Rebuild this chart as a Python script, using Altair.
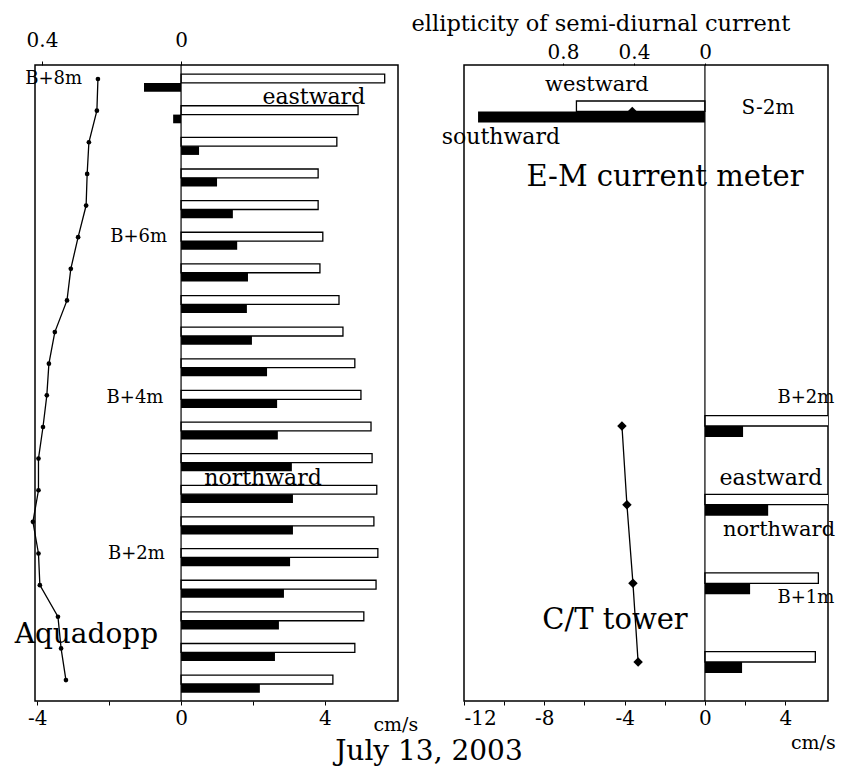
import altair as alt
import pandas as pd

FONT = "DejaVu Serif"

# ---------------- data ----------------
# Aquadopp profile (left panel): height above bottom (m)
aq_height = [8.0, 7.6, 7.2, 6.8, 6.4, 6.0, 5.6, 5.2, 4.8, 4.4,
             4.0, 3.6, 3.2, 2.8, 2.4, 2.0, 1.6, 1.2, 0.8, 0.4]
aq_east = [5.66, 4.92, 4.33, 3.81, 3.81, 3.94, 3.86, 4.39, 4.50, 4.83,
           5.00, 5.28, 5.31, 5.44, 5.36, 5.47, 5.42, 5.08, 4.83, 4.22]
aq_north = [-1.03, -0.22, 0.50, 1.00, 1.44, 1.56, 1.86, 1.83, 1.97, 2.39,
            2.67, 2.69, 3.08, 3.11, 3.11, 3.03, 2.86, 2.72, 2.61, 2.19]
aq_ellip = [0.239, 0.242, 0.265, 0.270, 0.273, 0.296, 0.317, 0.328, 0.363, 0.380,
            0.386, 0.397, 0.410, 0.410, 0.426, 0.410, 0.406, 0.354, 0.345, 0.331]

# E-M current meter (S-2m) and C/T tower (right panel)
em_height = [4.0]
em_east = [-6.4]      # westward
em_north = [-11.3]    # southward
em_ellip = [0.41]
ct_height = [2.0, 1.5, 1.0, 0.5]
ct_east = [6.2, 6.2, 5.65, 5.5]
ct_north = [1.9, 3.15, 2.25, 1.85]
ct_ellip = [0.468, 0.440, 0.406, 0.377]

# annotations: text, x (cm/s), y (m), font size
ann_left_text = ["B+8m", "B+6m", "B+4m", "B+2m", "eastward", "northward",
                 "Aquadopp", "cm/s", "July  13, 2003"]
ann_left_x = [-3.54, -1.18, -1.28, -1.24, 3.69, 2.28, -2.63, 5.97, 6.89]
ann_left_y = [8.0, 6.0, 3.97, 2.0, 7.77, 2.955, 0.97, -0.17, -0.51]
ann_left_fs = [18, 18, 18, 18, 22, 22, 28, 19, 28]

ann_right_text = ["ellipticity of semi-diurnal current", "westward", "southward", "S-2m",
                  "E-M current meter", "B+2m", "eastward", "northward", "B+1m",
                  "C/T tower", "cm/s"]
ann_right_x = [-5.18, -5.38, -10.16, 3.14, -1.99, 5.03, 3.29, 3.69, 5.03, -4.48, 5.40]
ann_right_y = [4.555, 4.168, 3.837, 4.022, 3.583, 2.178, 1.669, 1.339, 0.907, 0.767, -0.015]
ann_right_fs = [22.5, 21, 22, 20, 29, 18, 22, 21, 18, 29, 19]


def mult_label(m):
    return (f"datum.value % {m} == 0 ? (datum.value < 0 ? '-' + abs(datum.value) : '' + datum.value) : ''")


ELL_LABEL = "datum.value == 0 ? '0' : format(datum.value, '.1f')"


def panel(df, ann, xdom, ydom, edom, xvals, evals, width, height, bar_off, marker,
          top_tick, lbl_pad_top, line_groups):
    XS = alt.Scale(domain=xdom, nice=False, zero=False)
    YS = alt.Scale(domain=ydom, nice=False, zero=False)
    ES = alt.Scale(domain=edom, nice=False, zero=False)
    o_lo, o_hi, f_lo, f_hi = bar_off

    axis_b = alt.Axis(orient="bottom", values=xvals, labelExpr=mult_label(4), title=None,
                      grid=False, domain=False, tickSize=4, tickColor="black",
                      labelFontSize=20, labelPadding=3, labelColor="black", labelFont=FONT)
    axis_t = alt.Axis(orient="top", values=evals, labelExpr=ELL_LABEL, title=None,
                      grid=False, domain=False, tickSize=top_tick, tickColor="black",
                      labelFontSize=20, labelPadding=lbl_pad_top, labelColor="black", labelFont=FONT)

    base = alt.Chart(df).transform_calculate(
        zero="0",
        oa=f"datum.h + ({o_lo})", ob=f"datum.h + ({o_hi})",
        fa=f"datum.h + ({f_lo})", fb=f"datum.h + ({f_hi})",
    )
    open_bars = base.mark_bar(fill="white", stroke="black", strokeWidth=1.3, clip=True).encode(
        x=alt.X("east:Q", scale=XS, axis=axis_b), x2="zero:Q",
        y=alt.Y("oa:Q", scale=YS, axis=None), y2="ob:Q")
    fill_bars = base.mark_bar(fill="black", clip=True).encode(
        x=alt.X("north:Q", scale=XS, axis=axis_b), x2="zero:Q",
        y=alt.Y("fa:Q", scale=YS, axis=None), y2="fb:Q")
    zero_rule = alt.Chart(pd.DataFrame({"z": [0.0]})).mark_rule(color="black", strokeWidth=1.2).encode(
        x=alt.X("z:Q", scale=XS, axis=axis_b))
    texts = alt.Chart(ann).mark_text(font=FONT, baseline="middle", align="center", color="black").encode(
        x=alt.X("x:Q", scale=XS, axis=axis_b), y=alt.Y("y:Q", scale=YS, axis=None),
        text="t:N", size=alt.Size("fs:Q", scale=None, legend=None))
    cm_layer = alt.layer(open_bars, fill_bars, zero_rule, texts)

    ell_line = alt.Chart(df).transform_filter(
        alt.FieldOneOfPredicate(field="g", oneOf=line_groups)
    ).mark_line(color="black", strokeWidth=1.3).encode(
        x=alt.X("ellip:Q", scale=ES, axis=axis_t),
        y=alt.Y("h:Q", scale=YS, axis=None),
        order=alt.Order("h:Q"))
    ell_pts = alt.Chart(df).mark_point(filled=True, color="black", opacity=1, **marker).encode(
        x=alt.X("ellip:Q", scale=ES, axis=axis_t),
        y=alt.Y("h:Q", scale=YS, axis=None))
    ell_layer = alt.layer(ell_line, ell_pts)

    return alt.layer(cm_layer, ell_layer).resolve_scale(x="independent").properties(
        width=width, height=height)


aq_df = pd.DataFrame({"h": aq_height, "east": aq_east, "north": aq_north,
                      "ellip": aq_ellip, "g": ["aq"] * len(aq_height)})
ann_l = pd.DataFrame({"t": ann_left_text, "x": ann_left_x, "y": ann_left_y, "fs": ann_left_fs})

right_df = pd.DataFrame({
    "h": em_height + ct_height,
    "east": em_east + ct_east,
    "north": em_north + ct_north,
    "ellip": em_ellip + ct_ellip,
    "g": ["em"] * len(em_height) + ["ct"] * len(ct_height),
})
ann_r = pd.DataFrame({"t": ann_right_text, "x": ann_right_x, "y": ann_right_y, "fs": ann_right_fs})

left = panel(aq_df, ann_l, [-4.06, 6.03], [0.135, 8.177], [0.42, -0.624],
             [-4, -2, 0, 2, 4], [0.4, 0], 363, 636,
             (-0.05, 0.062, -0.16, -0.05), {"shape": "circle", "size": 22}, 4, 11, ["aq"])
right = panel(right_df, ann_r, [-12, 6.13], [0.252, 4.295], [1.358, -0.693],
              [-12, -10, -8, -6, -4, -2, 0, 2, 4], [0.8, 0.4, 0], 364, 636,
              (0.0, 0.066, -0.07, 0.0), {"shape": "diamond", "size": 90}, 2, 1, ["ct"])

chart = alt.hconcat(left, right, spacing=66, bounds="flush").configure_view(
    stroke="black", strokeWidth=1.5
).properties(
    padding={"left": 5, "top": 4, "right": 0, "bottom": 0}, background="white"
)

chart.save("out.html", embed_options={"renderer": "svg", "actions": False})
